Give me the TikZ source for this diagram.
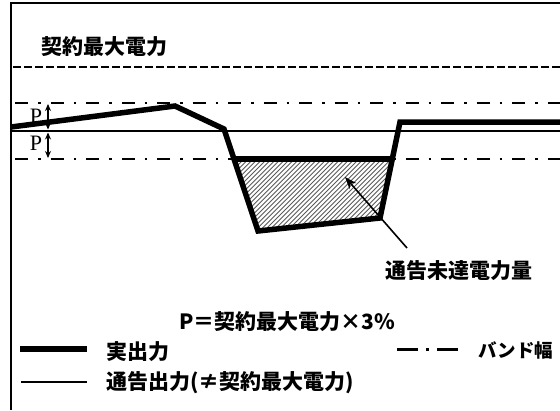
\documentclass[tikz,border=0pt]{standalone}
\usepackage{fontspec}
\setmainfont{Noto Sans CJK JP}
\newfontfamily\serifP{Liberation Serif}
\usetikzlibrary{arrows.meta}
\usetikzlibrary{calc,positioning}

\begin{document}
\begin{tikzpicture}[x=1pt,y=-1pt,>=Stealth,
    jtext/.style={font=\fontsize{21}{24}\selectfont\bfseries, inner sep=0pt},
    plabel/.style={font=\fontsize{22}{24}\selectfont\serifP, inner sep=0pt},
    actual/.style={line width=5.5pt},
    notice/.style={line width=2.6pt},
    band/.style={line width=2.8pt, dash pattern=on 13pt off 10pt on 2.5pt off 10pt},
    contract/.style={line width=2.8pt, dash pattern=on 8pt off 3pt},
    hatch/.style={line width=0.9pt, black!65}]

    \useasboundingbox (0,0) rectangle (560,410);
    \draw[line width=2.8pt] (11,410) coordinate (F0) -- (11,3) coordinate (F1) -- (560,3) coordinate (F2);

    \node[jtext, anchor=west] (Lcontract) at (41,47) {契約最大電力};
    \draw[contract] (13,67) coordinate (D0) -- (560,67) coordinate (D1);
    \draw[band] (15,103) coordinate (U0) -- (560,103) coordinate (U1);
    \draw[band] (15,159) coordinate (B0) -- (560,159) coordinate (B1);
    \draw[notice] (11,131) coordinate (N0) -- (560,131) coordinate (N1);

    \begin{scope}
      \clip (234,159) -- (258,231) -- (380,218) -- (392,159) -- cycle;
      \foreach \k in {0,...,60}
        \draw[hatch] (140+4.6*\k,240) -- ++(90,-90);
    \end{scope}

    \draw[actual] (11,127) coordinate (A0) -- (175,106) coordinate (A1) -- (224,129) coordinate (A2)
      -- (258,231) coordinate (A3) -- (380,218) coordinate (A4) -- (400,122) coordinate (A5) -- (560,122) coordinate (A6);
    \draw[actual] (234,159) coordinate (H0) -- (392,159) coordinate (H1);

    \coordinate (P0) at (48,104);
    \coordinate (P1) at (48,129.5);
    \coordinate (P2) at (48,132.5);
    \coordinate (P3) at (48,158);
    \draw[line width=1.7pt, {Stealth[length=7pt,width=6pt]}-{Stealth[length=7pt,width=6pt]}] (P0) -- (P1);
    \draw[line width=1.7pt, {Stealth[length=7pt,width=6pt]}-{Stealth[length=7pt,width=6pt]}] (P2) -- (P3);
    \node[plabel] (Pup) at (36,116) {P};
    \node[plabel] (Pdown) at (36,143) {P};

    \node[jtext] (Lshort) at (459,271) {通告未達電力量};
    \coordinate (R0) at (407,248);
    \coordinate (R1) at (345,177);
    \draw[line width=1.6pt, -{Stealth[length=12pt,width=9pt]}] (R0) -- (R1);

    \node[jtext, anchor=west] (Lformula) at (179,322) {P＝契約最大電力×3\%};
    \draw[actual] (20,349) coordinate (K0) -- (87,349) coordinate (K1);
    \node[jtext, anchor=west] (Lactual) at (106,352) {実出力};
    \draw[notice] (21,382) coordinate (K2) -- (87,382) coordinate (K3);
    \node[jtext, anchor=west] (Lnotice) at (106,383) {通告出力(≠契約最大電力)};
    \draw[line width=3pt, dash pattern=on 21pt off 8pt on 3pt off 8pt on 21pt] (397,349) coordinate (K4) -- (458,349) coordinate (K5);
    \node[jtext, anchor=west, font=\fontsize{18.5}{22}\selectfont\bfseries] (Lband) at (478,350) {バンド幅};

\end{tikzpicture}
\end{document}
